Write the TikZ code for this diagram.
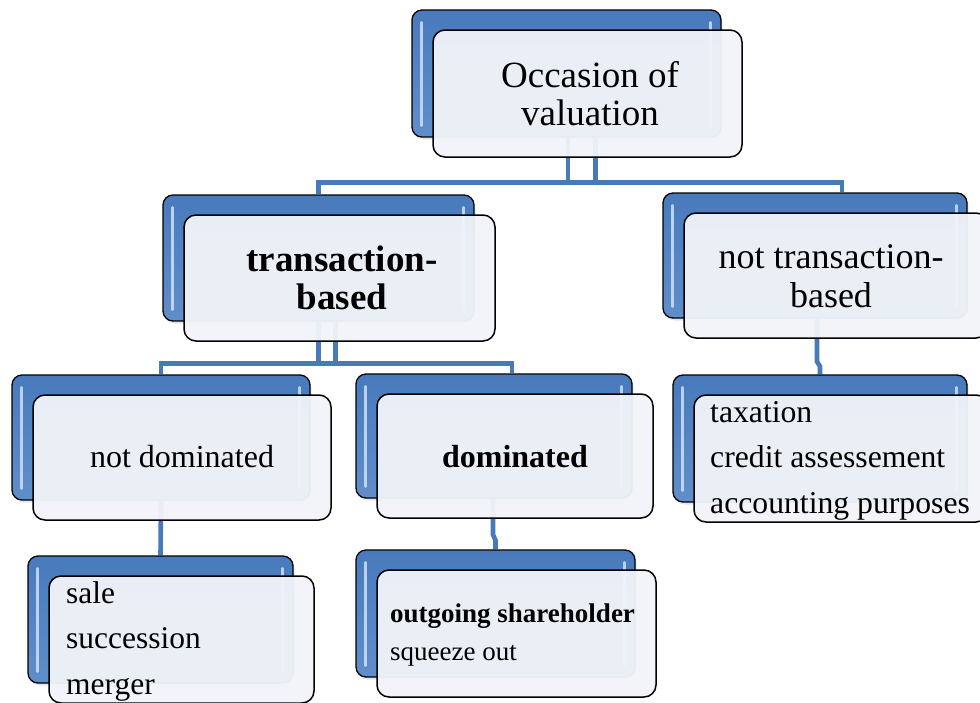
\documentclass[tikz,border=0pt]{standalone}
\usepackage{fontspec}
\setmainfont{Liberation Serif}
\usetikzlibrary{calc}

\definecolor{linkblue}{RGB}{70,122,184}
\definecolor{backtop}{RGB}{72,122,188}
\definecolor{backbot}{RGB}{96,142,202}
\definecolor{glintcol}{RGB}{205,225,248}
\definecolor{frontfill}{RGB}{241,244,249}

\pgfdeclarelayer{links}
\pgfsetlayers{links,main}

\tikzset{
  conn/.style={draw=linkblue, line width=4.6pt},
  shadowbox/.style={fill=black, opacity=0.10, rounded corners=10pt, inner sep=0pt},
  backbox/.style={draw=black, line width=1.3pt, rounded corners=10pt,
    top color=backtop, bottom color=backbot, inner sep=0pt},
  glint/.style={draw=glintcol, line width=2.6pt, line cap=round, opacity=0.85},
  frontbox/.style={draw=black, line width=1.5pt, rounded corners=12pt,
    fill=frontfill, fill opacity=0.955, inner sep=0pt},
  label/.style={inner sep=0pt, anchor=base},
  listlabel/.style={inner sep=0pt, anchor=base west},
}

% #1 name, #2 centre x, #3 centre y, #4 width, #5 height of the blue back panel;
% the light front panel sits shifted down and to the right
\newcommand\dualbox[5]{%
  \node[shadowbox, minimum width=#4, minimum height=#5] (#1-s) at ($(#2,#3)+(1.5,2.5)$) {};
  \node[backbox, minimum width=#4, minimum height=#5] (#1-b) at (#2,#3) {};
  \draw[glint] ([xshift=10pt,yshift=-13pt]#1-b.north west) -- ([xshift=10pt,yshift=12pt]#1-b.south west);
  \draw[glint] ([xshift=-11pt,yshift=-13pt]#1-b.north east) -- ([xshift=-11pt,yshift=12pt]#1-b.south east);
  \node[frontbox, minimum width=#4, minimum height=#5] (#1-f) at ($(#2,#3)+(21,20)$) {};
}

\begin{document}
\begin{tikzpicture}[x=1pt,y=-1pt]
\useasboundingbox (0,0) rectangle (980,702);

% panels
\dualbox{root}{566.5}{73.5}{309}{127}
\dualbox{tb}{318.5}{258}{311}{126}
\dualbox{ntb}{815}{255.5}{304}{125}
\dualbox{nd}{161}{437.5}{298}{125}
\dualbox{d}{494}{436}{276}{124}
\dualbox{tax}{820}{438.5}{294}{127}
\dualbox{sale}{160.5}{619.5}{265}{127}
\dualbox{out}{495.5}{613.5}{279}{127}

% texts
\node[label, font=\fontsize{37}{38}\selectfont] (root-t) at (590,87)
  {\begin{tabular}[t]{@{}c@{}}Occasion of\\valuation\end{tabular}};
\node[label, font=\fontsize{37}{38}\selectfont\bfseries] (tb-t) at (342,271)
  {\begin{tabular}[t]{@{}c@{}}transaction-\\based\end{tabular}};
\node[label, font=\fontsize{36}{39}\selectfont] (ntb-t) at (831,268)
  {\begin{tabular}[t]{@{}c@{}}not transaction-\\based\end{tabular}};
\node[label, font=\fontsize{32}{38}\selectfont] (nd-t) at (182,467) {not dominated};
\node[label, font=\fontsize{32}{38}\selectfont\bfseries] (d-t) at (515,467) {dominated};
\node[listlabel, font=\fontsize{31.7}{45.5}\selectfont] (tax-t) at (710,422)
  {\begin{tabular}[t]{@{}l@{}}taxation\\credit assessement\\accounting purposes\end{tabular}};
\node[listlabel, font=\fontsize{31.5}{45.5}\selectfont] (sale-t) at (66,603)
  {\begin{tabular}[t]{@{}l@{}}sale\\succession\\merger\end{tabular}};
\node[listlabel, font=\fontsize{27}{38}\selectfont] (out-t) at (390,622)
  {\begin{tabular}[t]{@{}l@{}}\textbf{outgoing shareholder}\\squeeze out\end{tabular}};

% connectors, kept behind the panels
\begin{pgfonlayer}{links}
  \draw[conn] ([xshift=29pt]root-b.south) |- ([yshift=12pt]tb-b.north) -- (tb-b.north);
  \draw[conn] ([xshift=1.5pt]root-b.south) |- ([xshift=27pt,yshift=10pt]ntb-b.north)
    -- ([xshift=27pt]ntb-b.north);
  \draw[conn] ([xshift=17pt]tb-b.south) |- ([yshift=11pt]nd-b.north) -- (nd-b.north);
  \draw[conn] (tb-b.south) |- ([xshift=18pt,yshift=10pt]d-b.north) -- ([xshift=18pt]d-b.north);
  \draw[conn] ([xshift=2pt]ntb-b.south) -- ++(0,43) -- ([yshift=8pt]tax-b.north) -- (tax-b.north);
  \draw[conn] ([xshift=-1pt]d-b.south) -- ++(0,36) -- ([yshift=9pt]out-b.north) -- (out-b.north);
  \draw[conn] (nd-b.south) -- (sale-b.north);
\end{pgfonlayer}
\end{tikzpicture}
\end{document}
